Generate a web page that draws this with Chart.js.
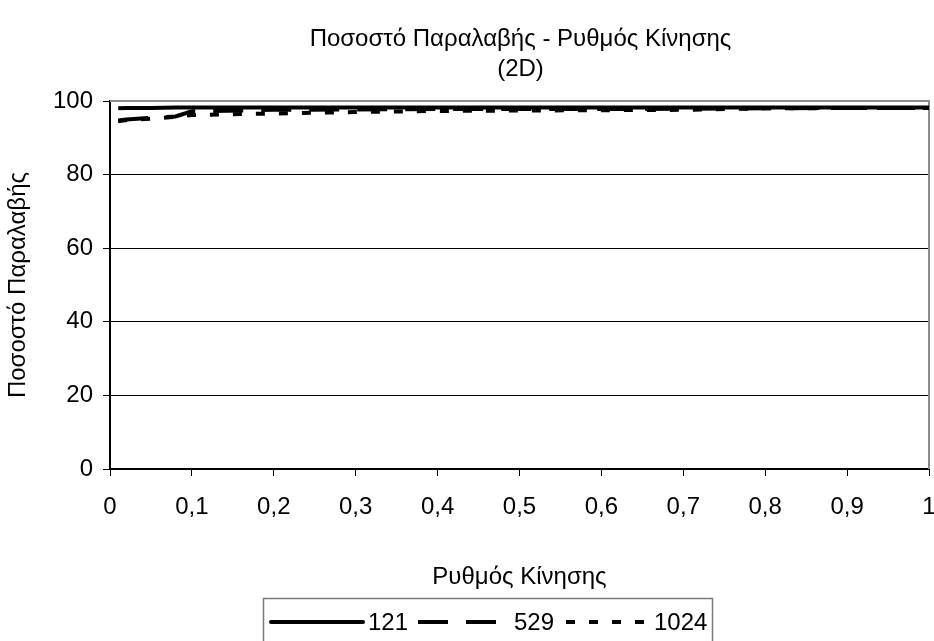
<!DOCTYPE html>
<html>
<head>
<meta charset="utf-8">
<script src="https://cdn.jsdelivr.net/npm/chart.js@4.4.1/dist/chart.umd.min.js"></script>
<style>
    html, body { margin: 0; padding: 0; background: #fff; }
    #wrap { width: 934px; height: 641px; }
</style>
</head>
<body>
<div id="wrap"><canvas id="rateChart" width="934" height="641"></canvas></div>
<script>
// Reception rate vs traffic rate (2D)
const titleLines = ['Ποσοστό Παραλαβής - Ρυθμός Κίνησης', '(2D)'];
const xTitle = 'Ρυθμός Κίνησης';
const yTitle = 'Ποσοστό Παραλαβής';

const rates = [0.01, 0.02, 0.05, 0.08, 0.1, 0.2, 0.3, 0.4, 0.5, 0.6, 0.7, 0.8, 0.9, 1];
const series121 = [98, 98.1, 98.1, 98.2, 98.2, 98.2, 98.2, 98.2, 98.2, 98.2, 98.2, 98.2, 98.2, 98.2];
const series529 = [94.7, 95, 95.4, 95.8, 97.2, 97.6, 97.7, 97.8, 97.8, 97.8, 97.9, 98, 98.1, 98.1];
const series1024 = [94.5, 94.8, 95.2, 95.7, 96.2, 96.6, 97, 97.3, 97.4, 97.5, 97.6, 98, 98.1, 98.1];

const xTickLabels = ['0', '0,1', '0,2', '0,3', '0,4', '0,5', '0,6', '0,7', '0,8', '0,9', '1'];
const yTicks = [0, 20, 40, 60, 80, 100];

const FONT = 'Liberation Sans, Arial, sans-serif';
const FSIZE = 24;

function pts(ys) {
    return rates.map((x, i) => ({ x: x, y: ys[i] }));
}

// title centred over the plot, gray frame on top/right, boxed legend below
const framePlugin = {
    id: 'frame',
    beforeDatasetsDraw(chart) {
        const { ctx, chartArea: a } = chart;
        ctx.save();
        ctx.strokeStyle = '#8c8c8c';
        ctx.lineWidth = 2;
        ctx.beginPath();
        ctx.moveTo(a.left, a.top);
        ctx.lineTo(a.right, a.top);
        ctx.lineTo(a.right, a.bottom);
        ctx.stroke();
        ctx.restore();
    },
    afterDraw(chart) {
        const { ctx, chartArea: a } = chart;
        ctx.save();
        ctx.fillStyle = '#000';
        ctx.font = FSIZE + 'px ' + FONT;
        ctx.textAlign = 'center';
        ctx.textBaseline = 'middle';
        const cx = (a.left + a.right) / 2;
        titleLines.forEach((t, i) => ctx.fillText(t, cx + 1, 39 + i * 30));

        // legend
        ctx.strokeStyle = '#7a7a7a';
        ctx.lineWidth = 1.5;
        ctx.strokeRect(263.5, 598.5, 449, 60);
        const items = [
            { x0: 271, x1: 363, tx: 368 },
            { x0: 418, x1: 500, tx: 514 },
            { x0: 566, x1: 650, tx: 654 }
        ];
        ctx.textAlign = 'left';
        chart.data.datasets.forEach((ds, i) => {
            const it = items[i];
            ctx.save();
            ctx.strokeStyle = ds.borderColor;
            ctx.lineWidth = ds.borderWidth;
            ctx.setLineDash(ds.borderDash || []);
            ctx.lineCap = i === 0 ? 'round' : 'butt';
            ctx.beginPath();
            ctx.moveTo(it.x0, 622);
            ctx.lineTo(it.x1, 622);
            ctx.stroke();
            ctx.restore();
            ctx.fillText(ds.label, it.tx, 623);
        });
        ctx.restore();
    }
};

new Chart(document.getElementById('rateChart'), {
    type: 'line',
    data: {
        datasets: [{
            label: '121',
            data: pts(series121),
            borderColor: '#000',
            borderWidth: 4,
            pointRadius: 0
        }, {
            label: '529',
            data: pts(series529),
            borderColor: '#000',
            borderWidth: 4,
            borderDash: [30, 18],
            pointRadius: 0
        }, {
            label: '1024',
            data: pts(series1024),
            borderColor: '#000',
            borderWidth: 4,
            borderDash: [9, 14],
            pointRadius: 0
        }]
    },
    options: {
        responsive: false,
        animation: false,
        layout: { padding: { top: 101, right: 5, bottom: 0, left: 0 } },
        plugins: {
            legend: { display: false },
            title: { display: false },
            tooltip: { enabled: false }
        },
        scales: {
            x: {
                type: 'linear',
                min: 0,
                max: 1,
                afterFit: s => {
                    s.height = 172;
                    s.paddingLeft = 0;
                    s.paddingRight = 0;
                },
                afterBuildTicks: s => {
                    s.ticks = xTickLabels.map((_, i) => ({ value: i / 10 }));
                },
                ticks: {
                    color: '#000',
                    font: { family: FONT, size: FSIZE },
                    padding: 17,
                    maxRotation: 0,
                    autoSkip: false,
                    callback: (v, i) => xTickLabels[i]
                },
                grid: {
                    drawOnChartArea: false,
                    drawTicks: true,
                    tickLength: 7,
                    color: '#000',
                    lineWidth: 1
                },
                border: { color: '#000', width: 2 },
                title: {
                    display: true,
                    text: xTitle,
                    color: '#000',
                    font: { family: FONT, size: FSIZE },
                    padding: { top: 0, bottom: 49 }
                }
            },
            y: {
                min: 0,
                max: 100,
                afterFit: s => {
                    s.width = 110;
                    s.paddingTop = 0;
                    s.paddingBottom = 0;
                },
                afterBuildTicks: s => {
                    s.ticks = yTicks.map(v => ({ value: v }));
                },
                ticks: {
                    color: '#000',
                    font: { family: FONT, size: FSIZE },
                    padding: 10
                },
                grid: {
                    color: ctx => ctx.tick && ctx.tick.value === 100 ? 'rgba(0,0,0,0)' : '#000',
                    lineWidth: 1,
                    tickLength: 7,
                    tickColor: '#000'
                },
                border: { color: '#000', width: 2 },
                title: {
                    display: true,
                    text: yTitle,
                    color: '#000',
                    font: { family: FONT, size: FSIZE },
                    padding: { top: 4, bottom: 0 }
                }
            }
        }
    },
    plugins: [framePlugin]
});
</script>
</body>
</html>
